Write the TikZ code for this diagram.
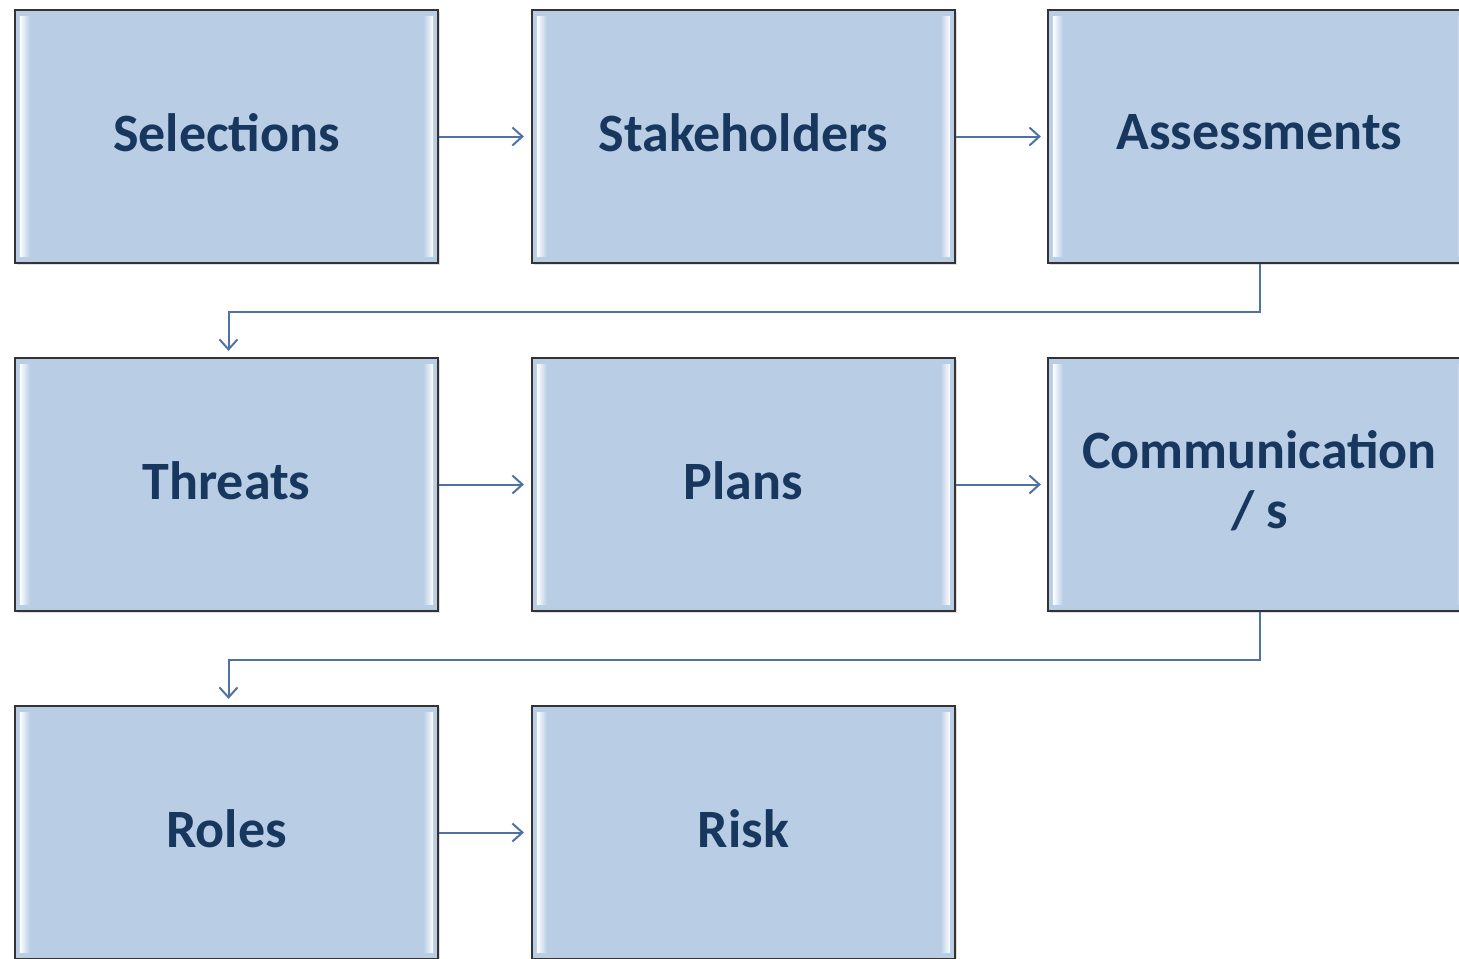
\documentclass[tikz,border=0pt]{standalone}
\usepackage{fontspec}
\setmainfont{Carlito}
\usetikzlibrary{arrows.meta,shadows}
\definecolor{boxfill}{HTML}{B9CDE5}
\definecolor{boxline}{HTML}{333333}
\definecolor{txt}{HTML}{17375E}
\definecolor{conn}{HTML}{4F72A6}
\tikzset{
  stepbox/.style={draw=boxline, line width=1.1pt, fill=boxfill, minimum width=211.5pt, minimum height=126.5pt,
    inner sep=0pt, align=center, text=txt,
    drop shadow={shadow xshift=1pt, shadow yshift=-1pt, opacity=0.25}},
  lbl/.style={inner sep=0pt, align=center, text=txt, font=\fontsize{27}{30}\selectfont\bfseries},
  link/.style={draw=conn, line width=1pt, -{Straight Barb[length=5pt,width=9pt,line width=1pt]}}
}
\newcommand{\bevel}[1]{%
  \shade[left color=white, right color=boxfill] ([xshift=3pt,yshift=-4pt]#1.north west) rectangle ([xshift=8pt,yshift=4pt]#1.south west);
  \shade[right color=white, left color=boxfill] ([xshift=-8pt,yshift=-4pt]#1.north east) rectangle ([xshift=-3pt,yshift=4pt]#1.south east);
}
\begin{document}
\begin{tikzpicture}[x=0.5pt,y=-0.5pt]
\useasboundingbox (0,0) rectangle (1459,958);
\clip (0,0) rectangle (1459,958);
\node[stepbox] (sel) at (226.5,136.5) {};
\node[stepbox] (stk) at (743.5,136.5) {};
\node[stepbox] (ass) at (1259.5,136.5) {};
\node[stepbox] (thr) at (226.5,484.5) {};
\node[stepbox] (pln) at (743.5,484.5) {};
\node[stepbox] (com) at (1259.5,484.5) {};
\node[stepbox] (rol) at (226.5,832.5) {};
\node[stepbox] (rsk) at (743.5,832.5) {};
\foreach \n in {sel,stk,ass,thr,pln,com,rol,rsk}{\bevel{\n}}
\node[lbl] (tsel) at ([yshift=2pt]sel.center) {Selections};
\node[lbl] (tstk) at ([yshift=2pt]stk.center) {Stakeholders};
\node[lbl] (tass) at ([yshift=2pt]ass.center) {Assessments};
\node[lbl] (tthr) at ([yshift=2pt]thr.center) {Threats};
\node[lbl] (tpln) at ([yshift=2pt]pln.center) {Plans};
\node[lbl] (tcom) at ([yshift=2pt]com.center) {Communication\\/ s};
\node[lbl] (trol) at ([yshift=2pt]rol.center) {Roles};
\node[lbl] (trsk) at ([yshift=2pt]rsk.center) {Risk};
\draw[link] (sel.east) -- ([xshift=-3.5pt]stk.west);
\draw[link] (stk.east) -- ([xshift=-3pt]ass.west);
\draw[link] (thr.east) -- ([xshift=-3.5pt]pln.west);
\draw[link] (pln.east) -- ([xshift=-3pt]com.west);
\draw[link] (rol.east) -- ([xshift=-3.5pt]rsk.west);
\draw[link] (ass.south) -- ++(0,48) -| ([xshift=1pt,yshift=3pt]thr.north);
\draw[link] (com.south) -- ++(0,48) -| ([xshift=1pt,yshift=3pt]rol.north);
\end{tikzpicture}
\end{document}
